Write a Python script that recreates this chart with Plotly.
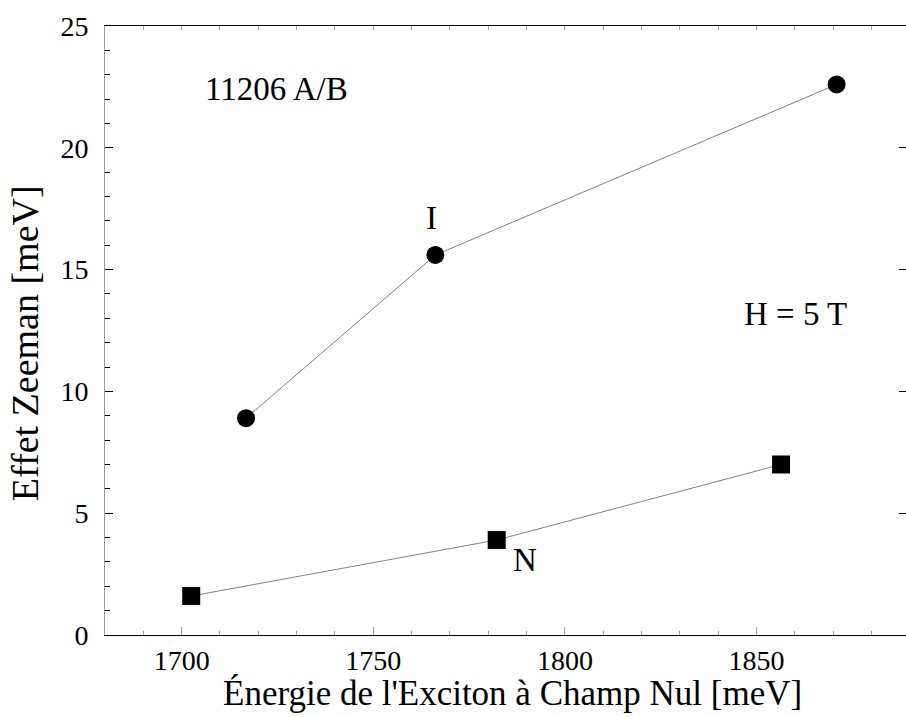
import plotly.graph_objects as go

# Zeeman splitting vs zero-field exciton energy, sample 11206 A/B at H = 5 T
energy_I = [1716.8, 1766.2, 1870.9]
zeeman_I = [8.9, 15.6, 22.6]
energy_N = [1702.5, 1782.2, 1856.4]
zeeman_N = [1.6, 3.9, 7.0]

x_range = [1680, 1889.0]
y_range = [0, 25]
x_ticks = [1700, 1750, 1800, 1850]
y_ticks = [0, 5, 10, 15, 20, 25]

FONT = "Liberation Serif"
LINE_GREY = "#808080"
TICK_GREY = "#9a9a9a"

fig = go.Figure()

fig.add_trace(go.Scatter(
    x=energy_I, y=zeeman_I, mode="lines+markers",
    line=dict(color=LINE_GREY, width=1),
    marker=dict(symbol="circle", size=18, color="black"),
    showlegend=False, cliponaxis=False,
))
fig.add_trace(go.Scatter(
    x=energy_N, y=zeeman_N, mode="lines+markers",
    line=dict(color=LINE_GREY, width=1),
    marker=dict(symbol="square", size=18, color="black"),
    showlegend=False, cliponaxis=False,
))
# invisible trace carrying the mirrored (top / right) axes
fig.add_trace(go.Scatter(
    x=[x_range[0]], y=[y_range[0]], xaxis="x2", yaxis="y2",
    mode="markers", marker=dict(opacity=0), showlegend=False, hoverinfo="skip",
))

fig.update_layout(
    width=906, height=717,
    margin=dict(l=105, r=0, t=26, b=82),
    paper_bgcolor="white", plot_bgcolor="white",
    font=dict(family=FONT, color="black", size=28),
    xaxis=dict(
        range=x_range, tickvals=x_ticks, ticks="inside", ticklen=8,
        tickcolor=TICK_GREY, tickwidth=1,
        minor=dict(dtick=10, tick0=1680, ticks="inside", ticklen=4,
                   tickcolor=TICK_GREY, tickwidth=1, showgrid=False),
        showline=True, linecolor="black", linewidth=1.4,
        showgrid=False, zeroline=False,
        tickfont=dict(family=FONT, size=28),
    ),
    xaxis2=dict(
        range=x_range, overlaying="x", side="top", dtick=10, tick0=1680,
        ticks="inside", ticklen=4, tickcolor=TICK_GREY, tickwidth=1,
        showline=True, linecolor="black", linewidth=1.4,
        showticklabels=False, showgrid=False, zeroline=False,
    ),
    yaxis=dict(
        range=y_range, tickvals=y_ticks, ticks="inside", ticklen=8,
        tickcolor="black", tickwidth=1,
        minor=dict(dtick=1, tick0=0, ticks="inside", ticklen=5,
                   tickcolor="black", tickwidth=1, showgrid=False),
        showline=True, linecolor=TICK_GREY, linewidth=1,
        showgrid=False, zeroline=False,
        tickfont=dict(family=FONT, size=28),
        ticklabelstandoff=10,
    ),
    yaxis2=dict(
        range=y_range, overlaying="y", side="right", tickvals=y_ticks,
        ticks="inside", ticklen=7, tickcolor="black", tickwidth=1,
        showline=False, showticklabels=False, showgrid=False, zeroline=False,
    ),
)

# axis titles
fig.add_annotation(
    text="Énergie de l'Exciton à Champ Nul [meV]",
    xref="paper", yref="paper", x=0.509, y=-0.096,
    xanchor="center", yanchor="middle", showarrow=False,
    font=dict(family=FONT, size=35),
)
fig.add_annotation(
    text="Effet Zeeman [meV]",
    xref="paper", yref="paper", x=-0.1, y=0.479,
    xanchor="center", yanchor="middle", textangle=-90, showarrow=False,
    font=dict(family=FONT, size=38),
)

# in-plot labels
labels = [
    ("11206 A/B", 1724.8, 22.4),
    ("I", 1765.1, 17.1),
    ("N", 1789.6, 3.09),
    ("H = 5 T", 1860.1, 13.19),
]
for txt, lx, ly in labels:
    fig.add_annotation(
        text=txt, x=lx, y=ly, xref="x", yref="y",
        xanchor="center", yanchor="middle", showarrow=False,
        font=dict(family=FONT, size=33),
    )

fig.write_html("out.html")
